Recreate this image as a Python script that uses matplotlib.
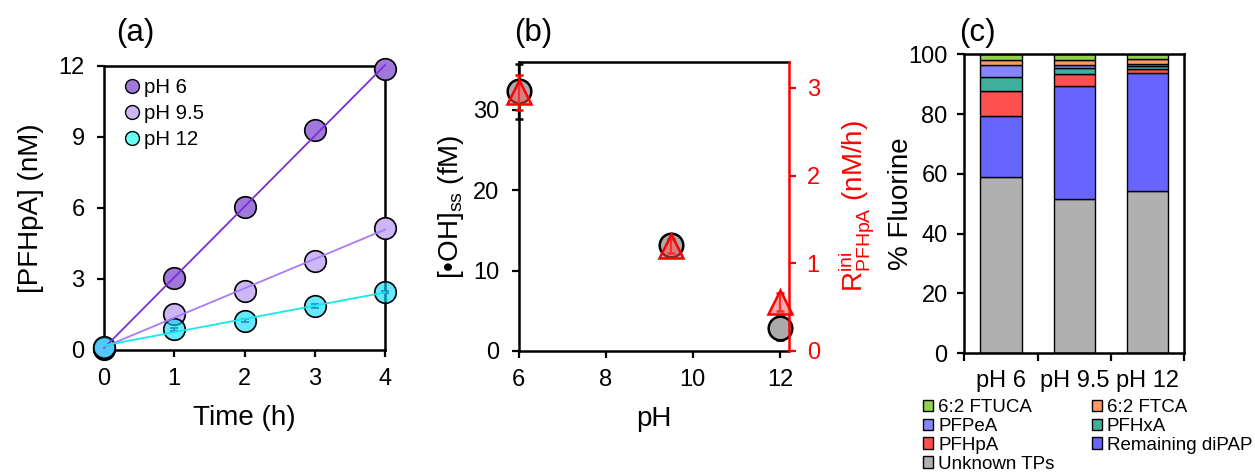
import numpy as np
import matplotlib
matplotlib.use("Agg")
import matplotlib.pyplot as plt
from matplotlib.lines import Line2D
from matplotlib.patches import Patch

plt.rcParams['font.family'] = ['Liberation Sans', 'DejaVu Sans']
plt.rcParams['mathtext.fontset'] = 'custom'
plt.rcParams['mathtext.rm'] = 'Liberation Sans'
plt.rcParams['mathtext.it'] = 'Liberation Sans:italic'
plt.rcParams['mathtext.bf'] = 'Liberation Sans:bold'

# ---- (a) PFHpA formation over time ----
time_h = [0, 1, 2, 3, 4]
pfhpa_ph6 = [0.05, 3.03, 6.06, 9.30, 11.86]
pfhpa_ph95 = [0.10, 1.50, 2.49, 3.77, 5.17]
pfhpa_ph12 = [0.14, 0.87, 1.24, 1.87, 2.44]
err_ph6 = [0.05, 0.08, 0.08, 0.25, 0.20]
err_ph95 = [0.05, 0.08, 0.06, 0.08, 0.10]
err_ph12 = [0.05, 0.06, 0.05, 0.08, 0.05]
series_labels = ["pH 6", "pH 9.5", "pH 12"]

# ---- (b) steady-state OH radical and initial rate vs pH ----
ph_values = [6, 9.5, 12]
oh_ss = [32.3, 13.2, 2.9]
oh_err = [3.4, 0.7, 1.5]
rate_ini = [2.95, 1.20, 0.56]
rate_err = [0.20, 0.08, 0.10]

# ---- (c) fluorine mass balance ----
bar_labels = ["pH 6", "pH 9.5", "pH 12"]
unknown_tps = [58.8, 51.5, 54.2]
remaining_dipap = [20.5, 38.0, 39.4]
pfhpa_pct = [8.5, 3.8, 1.5]
pfhxa_pct = [4.7, 2.0, 0.9]
pfpea_pct = [3.8, 1.2, 0.8]
ftca_pct = [1.9, 1.6, 1.6]
ftuca_pct = [1.8, 1.9, 1.6]

TICK_FS = 17
LABEL_FS = 20
PANEL_FS = 22.5

fig = plt.figure(figsize=(12.55, 4.72), dpi=100)

def style_axes(ax, lw=1.8):
    for s in ax.spines.values():
        s.set_linewidth(lw)
    ax.tick_params(direction='out', length=5, width=1.6, labelsize=TICK_FS)
    ax.tick_params(axis='y', pad=9)
    ax.tick_params(axis='x', pad=8)

# ================= (a) =================
axa = fig.add_axes([0.0829, 0.2585, 0.2239, 0.6017])
style_axes(axa)
fills = ['#a078dc', '#cbb6f6', (0.0, 0.85, 1.0, 0.6)]
line_cols = ['#7a2fd6', '#a97cf7', '#18e8e8']
ys = [pfhpa_ph6, pfhpa_ph95, pfhpa_ph12]
errs = [err_ph6, err_ph95, err_ph12]
t = np.array(time_h, dtype=float)
for y, e, fc in zip(ys, errs, fills):
    axa.errorbar(t, y, yerr=e, fmt='o', ms=15.5, mfc=fc, mec='black', mew=1.2,
                 ecolor='#3b2a66', elinewidth=1.2, capsize=3, capthick=1.2,
                 clip_on=False, zorder=3)
for y, lc in zip(ys, line_cols):
    k, b = np.polyfit(t, y, 1)
    axa.plot([t[0], t[-1]], [b, k * t[-1] + b], color=lc, lw=1.3, zorder=4, clip_on=False)
axa.set_xlim(0, 4)
axa.set_ylim(0, 12)
axa.set_xticks([0, 1, 2, 3, 4])
axa.set_yticks([0, 3, 6, 9, 12])
axa.set_xlabel("Time (h)", fontsize=LABEL_FS, labelpad=11)
axa.set_ylabel("[PFHpA] (nM)", fontsize=LABEL_FS, labelpad=10)
handles_a = [Line2D([], [], ls='none', marker='o', ms=10, mfc=fc, mec='black', mew=1.0)
             for fc in ['#a078dc', '#cbb6f6', '#66fff5']]
axa.legend(handles_a, series_labels, loc='upper left', bbox_to_anchor=(0.035, 1.0),
           frameon=False, fontsize=14.7, handlelength=0.6, handletextpad=0.3,
           labelspacing=0.34, borderaxespad=0.2)
fig.text(135 / 1255, 1 - 33 / 472, "(a)", fontsize=PANEL_FS, ha='center', va='center')

# ================= (b) =================
axb = fig.add_axes([0.4133, 0.2564, 0.2151, 0.6129])
style_axes(axb)
axb.spines['right'].set_visible(False)
axb.errorbar(ph_values, oh_ss, yerr=oh_err, fmt='o', ms=17, mfc='#aaaaaa', mec='black',
             mew=1.8, ecolor='black', elinewidth=1.6, capsize=3, capthick=1.6,
             clip_on=False, zorder=3)
axb.set_xlim(6, 12.2)
axb.set_ylim(0, 36)
axb.set_xticks([6, 8, 10, 12])
axb.set_yticks([0, 10, 20, 30])
axb.set_xlabel("pH", fontsize=LABEL_FS, labelpad=11)
axb.set_ylabel("[\u2022OH]$_{\\rm ss}$ (fM)", fontsize=LABEL_FS, labelpad=5)

axb2 = axb.twinx()
for side in ['left', 'top', 'bottom']:
    axb2.spines[side].set_visible(False)
axb2.spines['right'].set_color('red')
axb2.spines['right'].set_linewidth(1.8)
axb2.tick_params(axis='y', direction='out', length=5, width=1.6, colors='red',
                 labelsize=TICK_FS, pad=8)
axb2.errorbar(ph_values, rate_ini, yerr=rate_err, fmt='^', ms=17,
              mfc=(1.0, 0.35, 0.35, 0.5), mec='red', mew=1.8, ecolor='red',
              elinewidth=1.6, capsize=3, capthick=1.6, clip_on=False, zorder=4)
axb2.set_ylim(0, 3.3)
axb2.set_yticks([0, 1, 2, 3])
axb2.set_ylabel(r"R$^{\rm ini}_{\rm PFHpA}$ (nM/h)", fontsize=LABEL_FS, color='red',
                labelpad=12)
fig.text(533 / 1255, 1 - 33 / 472, "(b)", fontsize=PANEL_FS, ha='center', va='center')

# ================= (c) =================
axc = fig.add_axes([0.7684, 0.2515, 0.1753, 0.6335])
style_axes(axc)
axc.tick_params(axis='y', pad=7)
x = np.arange(len(bar_labels))
layers = [
    ("Unknown TPs", unknown_tps, '#b0b0b0'),
    ("Remaining diPAP", remaining_dipap, '#6666ff'),
    ("PFHpA", pfhpa_pct, '#ff5050'),
    ("PFHxA", pfhxa_pct, '#3fb09e'),
    ("PFPeA", pfpea_pct, '#8585ff'),
    ("6:2 FTCA", ftca_pct, '#ff9a60'),
    ("6:2 FTUCA", ftuca_pct, '#92d050'),
]
bottom = np.zeros(len(bar_labels))
patches = {}
for name, vals, col in layers:
    axc.bar(x, vals, width=0.56, bottom=bottom, color=col, edgecolor='black',
            linewidth=1.0, zorder=2)
    bottom += np.array(vals)
    patches[name] = Patch(facecolor=col, edgecolor='black', linewidth=1.0)
axc.set_xlim(-0.5, 2.5)
axc.set_ylim(0, 100)
axc.set_yticks([0, 20, 40, 60, 80, 100])
axc.set_xticks(x)
axc.set_xticklabels(bar_labels)
axc.set_xticks([-0.5, 0.5, 1.5, 2.5], minor=True)
axc.tick_params(axis='x', which='major', length=0, pad=12)
axc.tick_params(axis='x', which='minor', direction='out', length=6, width=1.6)
axc.set_ylabel("% Fluorine", fontsize=LABEL_FS, labelpad=-4)
fig.text(977 / 1255, 1 - 33 / 472, "(c)", fontsize=PANEL_FS, ha='center', va='center')

order = ["6:2 FTUCA", "PFPeA", "PFHpA", "Unknown TPs", "6:2 FTCA", "PFHxA", "Remaining diPAP"]
fig.legend([patches[n] for n in order], order, loc='upper left',
           bbox_to_anchor=(923 / 1255, 1 - 399 / 472), ncol=2, frameon=False,
           fontsize=13.5, handlelength=0.55, handleheight=0.55, handletextpad=0.25,
           labelspacing=0.1, columnspacing=2.0, borderpad=0, borderaxespad=0)

fig.savefig("out.png", dpi=100)
